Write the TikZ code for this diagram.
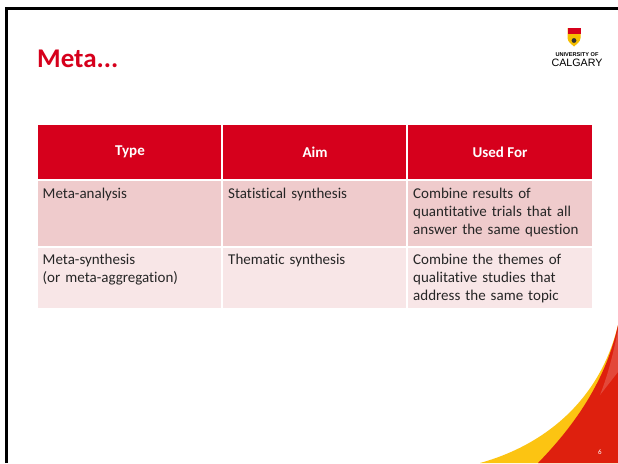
\documentclass[tikz,border=0pt]{standalone}
\usepackage{fontspec}
\setmainfont{Carlito}[Ligatures={NoCommon}]
\newfontfamily\logofont{Liberation Sans}
\usepackage{xcolor}
\usetikzlibrary{calc, positioning}
\definecolor{calred}{RGB}{214,0,28}
\definecolor{rowA}{RGB}{239,203,204}
\definecolor{rowB}{RGB}{248,230,231}
\definecolor{bodytext}{RGB}{38,38,38}
\definecolor{swred}{RGB}{222,32,14}
\definecolor{swyellow}{RGB}{252,196,18}
\definecolor{shgold}{RGB}{246,190,0}

\begin{document}
\begin{tikzpicture}[x=1pt, y=-1pt,
  head/.style={text=white, font=\fontsize{15}{18}\selectfont\bfseries, anchor=center, inner sep=0pt},
  cell/.style={text=bodytext, font=\fontsize{15}{18.3}\selectfont, anchor=base west, inner sep=0pt, align=left, text width=178pt}]
\useasboundingbox (0,0) rectangle (618,463);
\fill[white] (0,0) rectangle (618,463);

% swoosh
\fill[swyellow] (480,463) .. controls (545,445) and (600,400) .. (618,325) -- (618,463) -- cycle;
\fill[swred] (538,463) .. controls (570,430) and (605,385) .. (618,325) -- (618,463) -- cycle;
\fill[white, opacity=0.18] (618,330) .. controls (612,360) and (606,380) .. (600,395) -- (618,372) -- cycle;
\node[text=white, font=\fontsize{7}{8}\selectfont, inner sep=0pt] (page) at (600,452) {6};

% frame
\draw[line width=2.5pt] (6.5,463) -- (6.5,8.7) -- (618,8.7);

% title
\node[text=calred, font=\fontsize{27}{30}\selectfont\bfseries, anchor=base west, inner sep=0pt] (title) at (37,67) {Meta...};

% logo
\fill[shgold] (567.5,28) -- (580.5,28) -- (580.5,38) .. controls (580.5,42) and (576,44.5) .. (574,46.5) .. controls (572,44.5) and (567.5,42) .. (567.5,38) -- cycle;
\fill[calred] (567.5,28) -- (580.5,28) -- (580.5,34) -- (567.5,34) -- cycle;
\fill[black!80] (574,40.5) circle (2.4pt);
\node[font=\logofont\fontsize{5.6}{6}\selectfont\bfseries, inner sep=0pt] (uni) at (577,55) {UNIVERSITY OF};
\node[font=\logofont\fontsize{10.7}{11}\selectfont, inner sep=0pt] (calgary) at (577,63) {CALGARY};

% table cells
\fill[calred] (38,125) rectangle (221,179);
\fill[calred] (223,125) rectangle (406,179);
\fill[calred] (408,125) rectangle (592,179);
\fill[rowA] (38,181) rectangle (221,246);
\fill[rowA] (223,181) rectangle (406,246);
\fill[rowA] (408,181) rectangle (592,246);
\fill[rowB] (38,248) rectangle (221,308);
\fill[rowB] (223,248) rectangle (406,308);
\fill[rowB] (408,248) rectangle (592,308);

% header
\node[head] (hType) at (130,152) {Type};
\node[head] (hAim) at (315,152) {Aim};
\node[head] (hUsed) at (500,152) {Used For};

% row 1
\node[cell] (mA) at (42.5,198) {Meta-analysis};
\node[cell] (mAaim) at (228,198) {Statistical synthesis};
\node[cell] (mAuse) at (413,198) {Combine results of\\quantitative trials that all\\answer the same question};

% row 2
\node[cell] (mS) at (42.5,264) {Meta-synthesis\\(or meta-aggregation)};
\node[cell] (mSaim) at (228,264) {Thematic synthesis};
\node[cell] (mSuse) at (413,264) {Combine the themes of\\qualitative studies that\\address the same topic};
\end{tikzpicture}
\end{document}
